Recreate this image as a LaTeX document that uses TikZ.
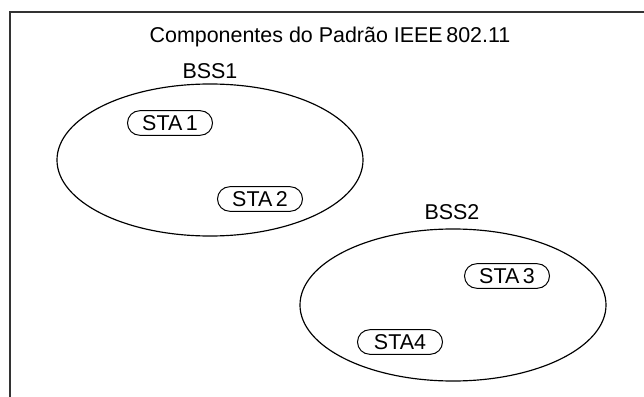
\documentclass[tikz,border=0pt]{standalone}
\usepackage{fontspec}
\setmainfont{Liberation Sans}
\usetikzlibrary{positioning,shapes.geometric}

\tikzset{
	bss/.style={draw, ellipse, line width=1pt, minimum width=9.18cm, minimum height=4.56cm, inner sep=0pt},
	sta/.style={draw, line width=0.85pt, rounded corners=10.5pt, minimum width=2.55cm, minimum height=21pt, inner sep=1pt},
	lbl/.style={inner sep=0pt}
}

\begin{document}
\begin{tikzpicture}[x=0.03cm, y=-0.03cm, font=\fontsize{18.3}{21}\selectfont]
		\useasboundingbox (0,0) rectangle (644,397);
		\draw[line width=1.2pt, black!80] (10,397) -- (10,12) -- (644,12);
		
		\node[lbl] (title) at (330,37) {Componentes do Padrão IEEE\,802.11};
		
		\node[bss] (b1) at (210,160) {};
		\node[bss] (b2) at (453,305) {};
		\node[lbl] (l1) at (210,71) {BSS1};
		\node[lbl] (l2) at (452,212) {BSS2};
		
		\node[sta] (s1) at (170,123) {STA\,1};
		\node[sta] (s2) at (260,199) {STA\,2};
		\node[sta] (s3) at (507,276) {STA\,3};
		\node[sta] (s4) at (400,342) {STA4};
	\end{tikzpicture}
\end{document}
